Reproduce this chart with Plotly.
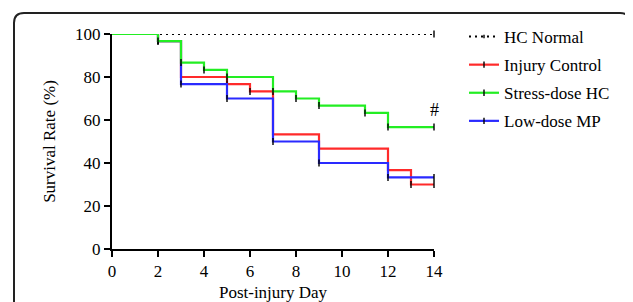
import plotly.graph_objects as go

# ---- data (Kaplan-Meier steps) ----
days_hc_normal = [0, 14]
surv_hc_normal = [100, 100]

days_injury = [0, 2, 3, 5, 6, 7, 9, 12, 13, 14]
surv_injury = [100, 96.7, 80, 76.7, 73.3, 53.3, 46.7, 36.7, 30, 30]

days_stress = [0, 2, 3, 4, 5, 7, 8, 9, 11, 12, 14]
surv_stress = [100, 96.7, 86.7, 83.3, 80, 73.3, 70, 66.7, 63.3, 56.7, 56.7]

days_lowmp = [0, 2, 3, 5, 7, 9, 12, 14]
surv_lowmp = [100, 96.7, 76.7, 70, 50, 40, 33.3, 33.3]

x_ticks = [0, 2, 4, 6, 8, 10, 12, 14]
y_ticks = [0, 20, 40, 60, 80, 100]

FONT = "Liberation Serif"

# the page body adds an 8px offset; work in figure pixels
OFF = 8
W, H = 633 - OFF, 302 - OFF
L, R, T, B = 112 - OFF, 434 - OFF, 34 - OFF, 249 - OFF


def px2paper(px, py):
    # px, py are screen pixels of the reference
    return (px - OFF - L) / (R - L), (B - (py - OFF)) / (B - T)


fig = go.Figure()


def add_km(x, y, name, color, rank, dash="solid", width=2.2):
    sizes = [0] + [5] * (len(x) - 1)
    fig.add_trace(go.Scatter(
        x=x, y=y, name=name, mode="lines+markers",
        legendgroup=name, legendrank=rank,
        line=dict(color=color, width=width, shape="hv", dash=dash),
        marker=dict(symbol="line-ns", size=sizes, color="black",
                    line=dict(color="black", width=2)),
        cliponaxis=False,
    ))


add_km(days_hc_normal, surv_hc_normal, "HC Normal", "black", 1, dash="2px,4px", width=2)
add_km(days_injury, surv_injury, "Injury Control", "#ff2a2a", 2)
add_km(days_lowmp, surv_lowmp, "Low-dose MP", "#2a2aff", 4)
add_km(days_stress, surv_stress, "Stress-dose HC", "#22ee22", 3)

fig.add_annotation(x=14, y=64.5, text="#", showarrow=False,
                   font=dict(family=FONT, size=18, color="black"))

# rounded frame
x0, y0 = px2paper(14, 13)
x1, _ = px2paper(630, 13)
_, yb = px2paper(0, 340)
rx = 10 / (R - L)
ry = 10 / (B - T)
path = (f"M {x0},{yb} L {x0},{y0 - ry} Q {x0},{y0} {x0 + rx},{y0} "
        f"L {x1 - rx},{y0} Q {x1},{y0} {x1},{y0 - ry} L {x1},{yb}")
fig.add_shape(type="path", path=path, xref="paper", yref="paper",
              line=dict(color="#222222", width=2))

lx, ly = px2paper(464, 19)

fig.update_layout(
    width=W, height=H,
    margin=dict(l=L, r=W - R, t=T, b=H - B, autoexpand=False),
    paper_bgcolor="white", plot_bgcolor="white",
    font=dict(family=FONT, size=16, color="black"),
    showlegend=True,
    legend=dict(x=lx, y=ly, xanchor="left", yanchor="top",
                font=dict(family=FONT, size=17), tracegroupgap=3,
                traceorder="grouped", itemwidth=30,
                bgcolor="rgba(0,0,0,0)"),
    xaxis=dict(range=[0, 14], tickvals=x_ticks, ticks="outside", ticklen=6,
               tickwidth=2, tickcolor="black", showline=True, linewidth=2,
               linecolor="black", showgrid=False, zeroline=False,
               automargin=False,
               tickfont=dict(family=FONT, size=17),
               title=dict(text="Post-injury Day", standoff=6,
                          font=dict(family=FONT, size=17))),
    yaxis=dict(range=[0, 100], tickvals=y_ticks, ticks="outside", ticklen=6,
               tickwidth=2, tickcolor="black", showline=True, linewidth=2,
               linecolor="black", showgrid=False, zeroline=False,
               automargin=False,
               tickfont=dict(family=FONT, size=17),
               title=dict(text="Survival Rate (%)", standoff=15,
                          font=dict(family=FONT, size=17))),
)

fig.write_html("out.html")
